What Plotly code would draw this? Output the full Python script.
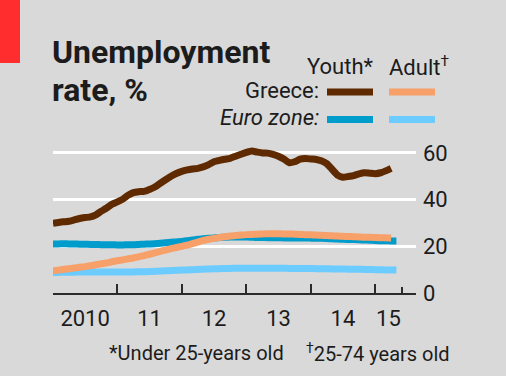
import plotly.graph_objects as go
import pandas as pd

# ---------------- data ----------------
months_greece = pd.date_range("2010-01-01", "2015-04-01", freq="MS")
months_euro = pd.date_range("2010-01-01", "2015-05-01", freq="MS")

greece_youth = [
    29.8, 30.2, 30.5, 30.7, 31.3, 31.9, 32.3, 32.6, 33.5, 35.0, 36.4, 38.0,
    39.0, 40.2, 41.8, 43.0, 43.4, 43.5, 44.3, 45.4, 47.0, 48.5, 50.0, 51.2,
    52.1, 52.7, 53.1, 53.4, 54.0, 55.0, 56.2, 56.8, 57.3, 57.7, 58.6, 59.4,
    60.2, 60.8, 60.4, 60.0, 59.9, 59.4, 58.6, 57.4, 55.8, 56.2, 57.3, 57.6,
    57.4, 57.2, 56.6, 55.4, 53.0, 50.5, 49.6, 49.9, 50.3, 51.0, 51.5, 51.3,
    51.1, 51.5, 52.3, 53.4,
]
greece_adult = [
    9.5, 9.8, 10.1, 10.4, 10.7, 11.0, 11.3, 11.7, 12.1, 12.5, 12.9, 13.4,
    13.8, 14.2, 14.6, 15.0, 15.5, 16.0, 16.6, 17.2, 17.8, 18.4, 19.0, 19.5,
    20.0, 20.5, 21.1, 21.8, 22.5, 23.0, 23.4, 23.8, 24.1, 24.4, 24.6, 24.8,
    25.0, 25.1, 25.2, 25.3, 25.4, 25.4, 25.4, 25.3, 25.3, 25.2, 25.1, 25.0,
    24.9, 24.8, 24.7, 24.6, 24.5, 24.4, 24.3, 24.2, 24.1, 24.0, 23.9, 23.9,
    23.8, 23.7, 23.7, 23.6,
]
euro_youth = [
    21.0, 21.0, 21.1, 21.0, 21.0, 20.9, 20.9, 20.8, 20.8, 20.7, 20.7, 20.7,
    20.6, 20.6, 20.7, 20.7, 20.8, 20.9, 21.0, 21.1, 21.3, 21.5, 21.7, 21.9,
    22.1, 22.4, 22.7, 23.0, 23.2, 23.4, 23.6, 23.8, 23.9, 24.0, 24.0, 24.0,
    24.0, 23.9, 23.8, 23.8, 23.7, 23.7, 23.7, 23.6, 23.6, 23.6, 23.6, 23.6,
    23.5, 23.4, 23.4, 23.3, 23.2, 23.1, 23.0, 22.9, 22.9, 22.8, 22.7, 22.6,
    22.5, 22.4, 22.4, 22.3, 22.3,
]
euro_adult = [
    8.8, 8.8, 8.9, 8.9, 8.9, 9.0, 9.0, 9.0, 9.0, 9.0, 9.0, 9.0,
    9.0, 9.0, 9.0, 9.0, 9.1, 9.1, 9.2, 9.3, 9.4, 9.5, 9.6, 9.7,
    9.8, 9.9, 10.0, 10.1, 10.2, 10.3, 10.4, 10.4, 10.5, 10.5, 10.6, 10.6,
    10.6, 10.6, 10.6, 10.6, 10.6, 10.6, 10.6, 10.6, 10.5, 10.5, 10.5, 10.5,
    10.5, 10.4, 10.4, 10.4, 10.3, 10.3, 10.3, 10.2, 10.2, 10.2, 10.1, 10.1,
    10.0, 10.0, 9.9, 9.9, 9.8,
]

year_ticks = ["2010-01-01", "2011-01-01", "2012-01-01", "2013-01-01", "2014-01-01", "2015-01-01"]
end_tick = ["2015-06-01"]
year_label_pos = ["2010-07-02", "2011-07-02", "2012-07-02", "2013-07-02", "2014-07-02", "2015-03-17"]
year_labels = ["2010", "11", "12", "13", "14", "15"]
y_ticks = [0, 20, 40, 60]
grid_vals = [20, 40, 60]
x_range = ["2010-01-01", "2015-08-20"]
y_range = [0, 65.1]

# ---------------- style ----------------
BG = "#d9d9d9"
TXT = "#1c1c1c"
FONT = "Roboto"
C_GY = "#5f2a00"
C_GA = "#f7a06a"
C_EY = "#009ccc"
C_EA = "#6ccbff"

W, H = 506, 376
ML, MR, MT, MB = 53, 90, 141, 83
PW, PH = W - ML - MR, H - MT - MB


def px(x):
    return (x - ML) / PW


def py(y):
    return (H - MB - y) / PH


fig = go.Figure()
for xs, ys, col in [
    (months_euro, euro_adult, C_EA),
    (months_euro, euro_youth, C_EY),
    (months_greece, greece_adult, C_GA),
    (months_greece, greece_youth, C_GY),
]:
    fig.add_trace(go.Scatter(x=xs, y=ys, mode="lines",
                             line=dict(color=col, width=7, shape="spline", smoothing=0.5),
                             hoverinfo="skip", showlegend=False))

# invisible trace that carries the year-label axis
fig.add_trace(go.Scatter(x=year_label_pos, y=[0] * len(year_label_pos), xaxis="x2",
                         mode="markers", marker=dict(opacity=0, size=1),
                         hoverinfo="skip", showlegend=False))

fig.update_layout(
    width=W, height=H,
    margin=dict(l=ML, r=MR, t=MT, b=MB, pad=0),
    paper_bgcolor=BG, plot_bgcolor=BG,
    font=dict(family=FONT, color=TXT),
    hovermode=False,
    xaxis=dict(
        type="date", range=x_range, tickmode="array", tickvals=year_ticks,
        showticklabels=False, ticks="inside", ticklen=9, tickwidth=2, tickcolor="#2b2b2b",
        showline=True, linecolor="#2b2b2b", linewidth=2, showgrid=False, zeroline=False,
        minor=dict(tickmode="array", tickvals=end_tick, ticks="inside", ticklen=6,
                   tickwidth=2, tickcolor="#2b2b2b", showgrid=False),
        fixedrange=True,
    ),
    xaxis2=dict(
        type="date", range=x_range, overlaying="x", anchor="y", side="bottom",
        tickmode="array", tickvals=year_label_pos, ticktext=year_labels,
        ticks="", showline=False, showgrid=False, zeroline=False,
        tickfont=dict(size=22, color=TXT), ticklabelstandoff=10, fixedrange=True,
    ),
    yaxis=dict(
        range=y_range, side="right", tickmode="array", tickvals=y_ticks,
        ticks="", showline=False, showgrid=False, zeroline=False,
        tickfont=dict(size=22, color=TXT), ticklabelstandoff=6, fixedrange=True,
        minor=dict(tickmode="array", tickvals=grid_vals, showgrid=True,
                   gridcolor="white", gridwidth=3, ticks=""),
    ),
)

shapes = [
    # red corner block
    dict(type="rect", xref="paper", yref="paper", x0=px(0), x1=px(20), y0=py(63), y1=py(0),
         fillcolor="#ff2d2d", line=dict(width=0), layer="above"),
]
for x0, x1, y0, y1, col in [
    (327, 373, 88.5, 95.5, C_GY), (389, 435, 88.5, 95.5, C_GA),
    (327, 373, 116, 123, C_EY), (389, 435, 116, 123, C_EA),
]:
    shapes.append(dict(type="rect", xref="paper", yref="paper", x0=px(x0), x1=px(x1),
                       y0=py(y1), y1=py(y0), fillcolor=col, line=dict(width=0)))
fig.update_layout(shapes=shapes)


def ann(text, x, y, xanchor, size, **kw):
    fig.add_annotation(text=text, x=px(x), y=py(y), xref="paper", yref="paper",
                       xanchor=xanchor, yanchor="middle", showarrow=False,
                       font=dict(size=size, color=TXT, family=FONT, **kw))


ann("<b>Unemployment</b>", 50, 52, "left", 32)
ann("<b>rate, %</b>", 50, 90, "left", 32)
ann("Youth*", 376, 66, "right", 22)
ann("Adult<sup>†</sup>", 387, 66, "left", 22)
ann("Greece:", 321, 90, "right", 22)
ann("<i>Euro zone:</i>", 321, 118, "right", 22)
ann("*Under 25-years old", 286, 353, "right", 20)
ann("<sup>†</sup>25-74 years old", 304, 353, "left", 20)

fig.write_html(
    "out.html",
    config={"displayModeBar": False, "staticPlot": True},
    post_script="document.body.style.margin='0';document.body.style.overflow='hidden';",
)
